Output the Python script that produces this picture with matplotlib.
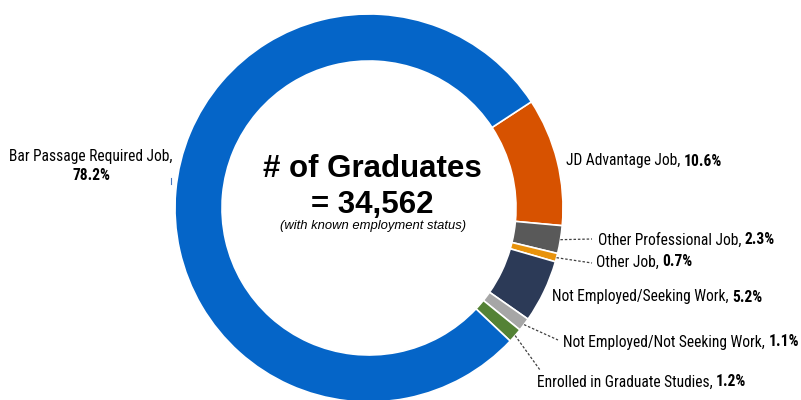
import matplotlib.pyplot as plt
import numpy as np

# Données
categories = ['JD Advantage Job', 'Other Professional Job', 'Other Job',
              'Not Employed/Seeking Work', 'Not Employed/Not Seeking Work',
              'Enrolled in Graduate Studies', 'Bar Passage Required Job']
valeurs = [10.6, 2.3, 0.7, 5.2, 1.1, 1.2, 78.2]
couleurs = ['#D75200', '#595959', '#E8930C', '#2C3A57', '#A6A6A6', '#548235', '#0565C8']
total = '34,562'

H = 400
centre = (369, H - 208)
rayon = 194
epaisseur = 47

fig = plt.figure(figsize=(8.01, 4.00), dpi=100)
ax = fig.add_axes([0, 0, 1, 1])

wedges, _ = ax.pie(valeurs, colors=couleurs, startangle=33.2, counterclock=False,
                   center=centre, radius=rayon, frame=True,
                   wedgeprops=dict(width=epaisseur, edgecolor='white', linewidth=1.2))
ax.set_xlim(0, 801)
ax.set_ylim(0, H)
ax.set_aspect('equal')
ax.axis('off')

police = ['Roboto Condensed', 'Liberation Sans', 'DejaVu Sans']
fs = 11.2

# positions des étiquettes (pixels) et fin des traits pointillés
pos = {
    'JD Advantage Job': (566, 161, None),
    'Other Professional Job': (598, 240, (592, 239)),
    'Other Job': (596, 262, (592, 263)),
    'Not Employed/Seeking Work': (552, 297, None),
    'Not Employed/Not Seeking Work': (563, 342, (558, 340)),
    'Enrolled in Graduate Studies': (537, 382, (540, 370)),
}

for w, nom, val in zip(wedges, categories, valeurs):
    if nom not in pos:
        continue
    x, y, fin = pos[nom]
    t = ax.text(x, H - y, nom + ', ', ha='left', va='center', fontsize=fs,
                family=police)
    fig.canvas.draw()
    bb = t.get_window_extent()
    ax.text(bb.x1, H - y, f'{val}%', ha='left', va='center', fontsize=fs,
            family=police, fontweight='bold')
    if fin is not None:
        ang = np.deg2rad((w.theta1 + w.theta2) / 2)
        x0 = centre[0] + rayon * np.cos(ang)
        y0 = centre[1] + rayon * np.sin(ang)
        ax.plot([x0, fin[0]], [y0, H - fin[1]], ls=(0, (2, 1.5)), lw=0.9, color='#404040')

# Bar Passage
ax.text(91, H - 157, 'Bar Passage Required Job,', ha='center', va='center',
        fontsize=fs, family=police)
ax.text(91, H - 175, f'{valeurs[-1]}%', ha='center', va='center',
        fontsize=fs, family=police, fontweight='bold')
ax.plot([171, 171], [H - 178, H - 184], color='#4a78c0', lw=0.8)

# texte central
ax.text(372, H - 169, '# of Graduates', ha='center', va='center', fontsize=22.5,
        fontweight='bold', family=['Liberation Sans', 'DejaVu Sans'])
ax.text(372, H - 205, '= ' + total, ha='center', va='center', fontsize=22.5,
        fontweight='bold', family=['Liberation Sans', 'DejaVu Sans'])
ax.text(373, H - 226, '(with known employment status)', ha='center', va='center',
        fontsize=9.4, style='italic', family=['Liberation Sans', 'DejaVu Sans'])

fig.savefig('out.png', dpi=100)
